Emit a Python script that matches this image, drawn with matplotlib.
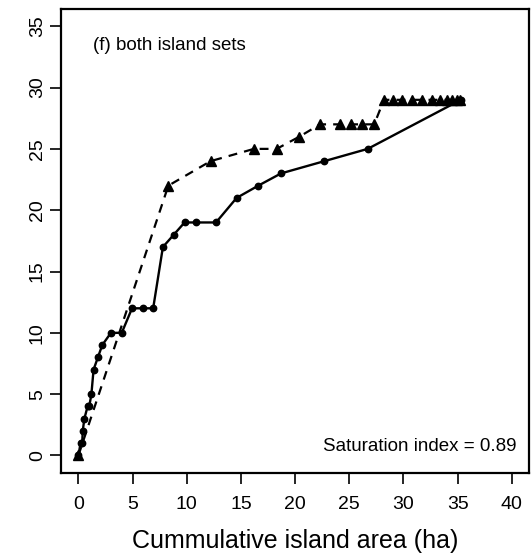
import matplotlib
matplotlib.use("Agg")
import matplotlib.pyplot as plt

plt.rcParams['font.family'] = ['Liberation Sans', 'DejaVu Sans']

# cumulative island area (ha) vs. species count, two accumulation orders
area_solid = [0, 0.2, 0.35, 0.4, 0.55, 0.85, 1.0, 1.2, 1.4, 1.8, 2.2, 3.0, 4.0,
              4.95, 5.95, 6.9, 7.8, 8.8, 9.8, 10.85, 12.7, 14.6, 16.6, 18.7,
              22.7, 26.7, 35.3]
rich_solid = [0, 1, 1, 2, 3, 4, 4, 5, 7, 8, 9, 10, 10,
              12, 12, 12, 17, 18, 19, 19, 19, 21, 22, 23,
              24, 25, 29]

area_dash = [0, 8.3, 12.2, 16.2, 18.3, 20.4, 22.3, 24.1, 25.2, 26.2, 27.3,
             28.2, 29.0, 29.9, 30.8, 31.7, 32.6, 33.4, 34.0, 34.5, 34.9, 35.2]
rich_dash = [0, 22, 24, 25, 25, 26, 27, 27, 27, 27, 27,
             29, 29, 29, 29, 29, 29, 29, 29, 29, 29, 29]

panel_label = "(f) both island sets"
sat_index = 0.89

fig = plt.figure(figsize=(5.31, 5.6), dpi=100)
ax = fig.add_axes([0.115, 0.156, 0.8815, 0.8278])

ax.plot(area_dash, rich_dash, color="black", lw=1.6, linestyle=(0, (4, 3.2)),
        marker="^", markersize=7.5, zorder=3)
ax.plot(area_solid, rich_solid, color="black", lw=1.7, marker="o",
        markersize=4.6, zorder=4)

ax.set_xlim(-1.6, 41.6)
ax.set_ylim(-1.4, 36.4)
ax.set_xticks(range(0, 41, 5))
ax.set_yticks(range(0, 36, 5))
for lab in ax.get_yticklabels():
    lab.set_rotation(90)
    lab.set_va("center")
ax.tick_params(direction="out", length=8, width=1.2, labelsize=14)
ax.tick_params(axis="x", pad=9)
ax.tick_params(axis="y", pad=3)
for sp in ax.spines.values():
    sp.set_linewidth(1.6)

ax.set_xlabel("Cummulative island area (ha)", fontsize=18)
ax.xaxis.set_label_coords(0.5, -0.147)
ax.xaxis.label.set_va("center")

ax.text(0.068, 0.922, panel_label, transform=ax.transAxes, fontsize=13.5,
        ha="left", va="center")
ax.text(0.972, 0.057, "Saturation index = %.2f" % sat_index,
        transform=ax.transAxes, fontsize=13.5, ha="right", va="center")

fig.savefig("out.png", dpi=100)
